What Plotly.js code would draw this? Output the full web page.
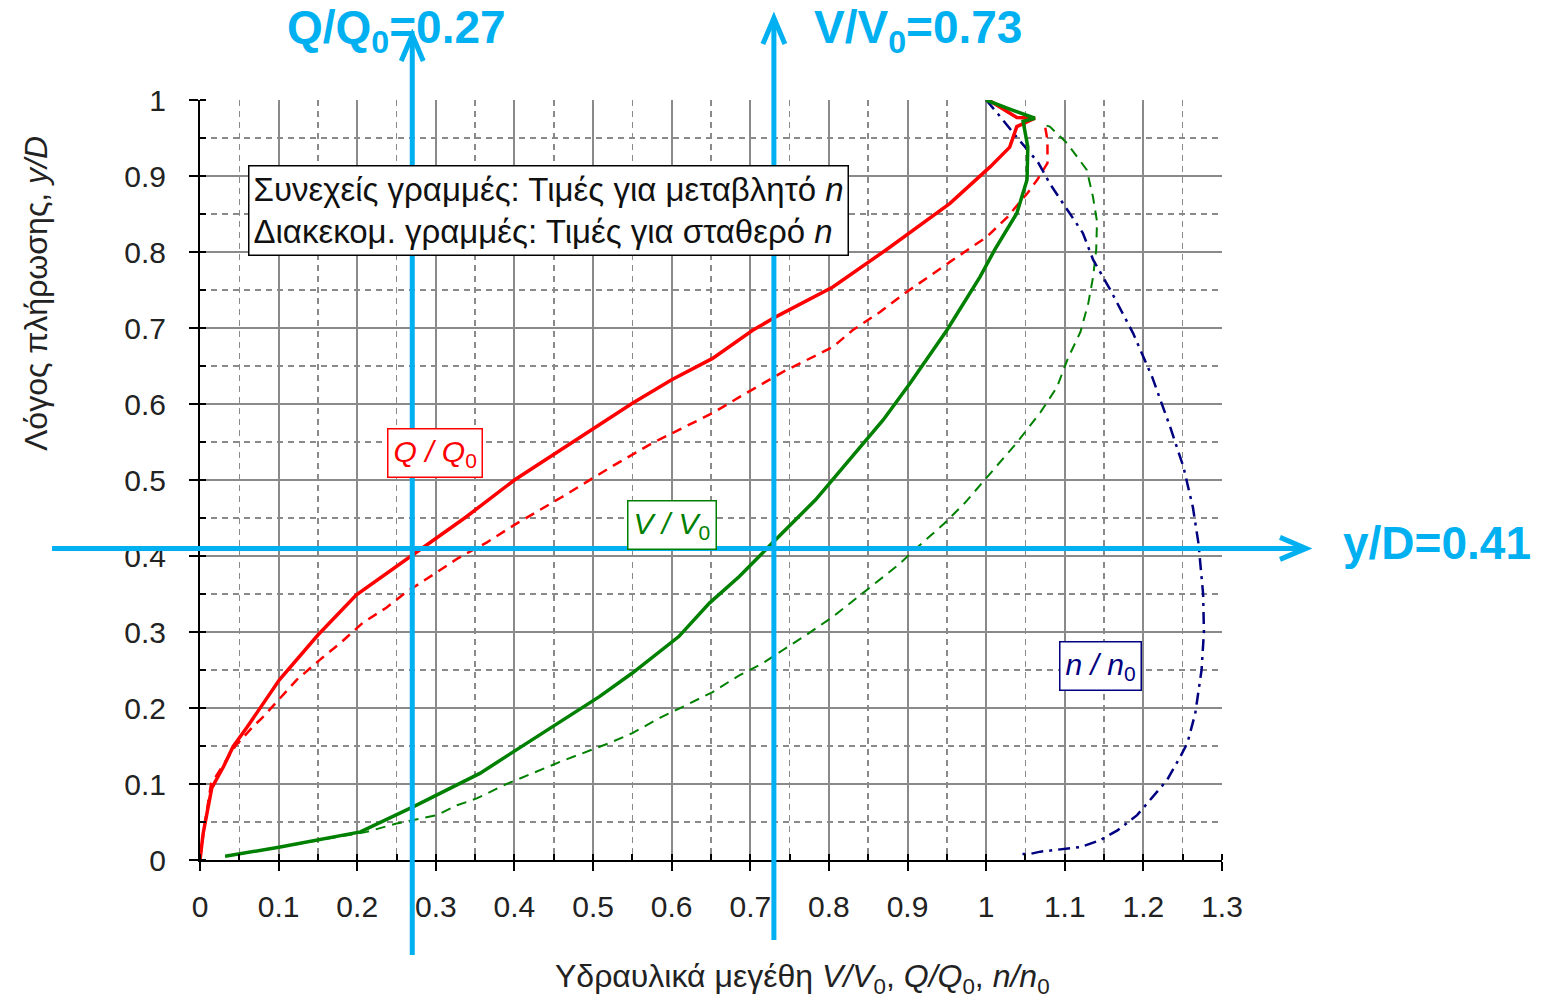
<!DOCTYPE html>
<html>
<head>
<meta charset="utf-8">
<script src="https://cdn.plot.ly/plotly-3.0.1.min.js"></script>
<style>html,body{margin:0;padding:0;background:#fff;}#chart{width:1544px;height:1000px;}</style>
</head>
<body>
<div id="chart"></div>
<script>
// ---- Data ----
// Q/Q0, variable n (solid red)
const qVarX = [0, 0.004, 0.015, 0.03, 0.042, 0.06, 0.101, 0.15, 0.199, 0.27, 0.338, 0.40, 0.505, 0.55, 0.60, 0.652, 0.703, 0.733, 0.805, 0.873, 0.954, 1.005, 1.03, 1.039, 1.062, 1.039, 1.003];
const qVarY = [0, 0.035, 0.095, 0.123, 0.149, 0.175, 0.237, 0.296, 0.349, 0.401, 0.451, 0.5, 0.57, 0.601, 0.632, 0.66, 0.697, 0.715, 0.754, 0.803, 0.864, 0.912, 0.938, 0.965, 0.976, 0.977, 1.0];
// Q/Q0, constant n (dashed red)
const qConX = [0, 0.005, 0.014, 0.045, 0.067, 0.08, 0.123, 0.152, 0.178, 0.207, 0.237, 0.263, 0.296, 0.328, 0.365, 0.40, 0.461, 0.521, 0.576, 0.652, 0.686, 0.741, 0.805, 0.83, 0.865, 0.897, 0.954, 1.001, 1.027, 1.053, 1.065, 1.078, 1.078, 1.075, 1.069];
const qConY = [0, 0.04, 0.1, 0.15, 0.175, 0.188, 0.237, 0.263, 0.285, 0.312, 0.332, 0.353, 0.375, 0.397, 0.418, 0.441, 0.478, 0.516, 0.549, 0.588, 0.609, 0.642, 0.675, 0.697, 0.721, 0.746, 0.787, 0.82, 0.846, 0.878, 0.895, 0.917, 0.947, 0.965, 0.968];
// V/V0, variable n (solid green)
const vVarX = [0.032, 0.102, 0.204, 0.271, 0.356, 0.43, 0.508, 0.55, 0.609, 0.648, 0.686, 0.728, 0.783, 0.869, 0.903, 0.95, 0.992, 1.011, 1.039, 1.052, 1.053, 1.047, 1.062, 1.03, 1.0];
const vVarY = [0.005, 0.017, 0.037, 0.07, 0.114, 0.163, 0.215, 0.246, 0.294, 0.338, 0.373, 0.417, 0.474, 0.579, 0.627, 0.697, 0.767, 0.803, 0.851, 0.895, 0.938, 0.972, 0.976, 0.988, 1.0];
// V/V0, constant n (dashed green)
const vConX = [0.032, 0.102, 0.212, 0.25, 0.301, 0.327, 0.352, 0.39, 0.46, 0.521, 0.55, 0.585, 0.619, 0.652, 0.686, 0.716, 0.741, 0.771, 0.805, 0.856, 0.888, 0.913, 0.947, 0.973, 1.001, 1.039, 1.069, 1.09, 1.104, 1.12, 1.13, 1.136, 1.14, 1.141, 1.136, 1.128, 1.103, 1.081, 1.071];
const vConY = [0.005, 0.017, 0.037, 0.048, 0.059, 0.072, 0.081, 0.1, 0.13, 0.154, 0.167, 0.187, 0.204, 0.221, 0.243, 0.259, 0.276, 0.296, 0.32, 0.362, 0.388, 0.412, 0.443, 0.47, 0.503, 0.549, 0.589, 0.622, 0.66, 0.695, 0.733, 0.767, 0.803, 0.84, 0.872, 0.908, 0.943, 0.965, 0.968];
// n/n0 (dash-dot navy)
const nX = [1.0, 1.014, 1.039, 1.066, 1.081, 1.103, 1.123, 1.136, 1.158, 1.187, 1.211, 1.234, 1.251, 1.263, 1.27, 1.276, 1.277, 1.274, 1.266, 1.256, 1.247, 1.23, 1.212, 1.192, 1.167, 1.145, 1.12, 1.094, 1.069, 1.056, 1.039];
const nY = [1.0, 0.983, 0.951, 0.918, 0.89, 0.855, 0.825, 0.79, 0.75, 0.693, 0.636, 0.57, 0.517, 0.464, 0.417, 0.35, 0.3, 0.25, 0.193, 0.154, 0.136, 0.105, 0.083, 0.059, 0.039, 0.026, 0.017, 0.014, 0.011, 0.008, 0.008];

// Read-off values marked by the cyan lines
const readQ = 0.27;
const readV = 0.73;
const readY = 0.41;

// Curve label boxes (centre positions in data units)
const labelTexts = ['<i>Q / Q</i><sub>0</sub>', '<i>V / V</i><sub>0</sub>', '<i>n / n</i><sub>0</sub>'];
const labelX = [0.299, 0.6, 1.145];
const labelY = [0.5355, 0.441, 0.255];
const labelColors = ['#ff0000', '#008000', '#000080'];

const legendText = 'Συνεχείς γραμμές: Τιμές για μεταβλητό <i>n</i><br>Διακεκομ. γραμμές: Τιμές για σταθερό <i>n</i>';
const xTitle = 'Υδραυλικά μεγέθη <i>V/V</i><sub>0</sub>, <i>Q/Q</i><sub>0</sub>, <i>n/n</i><sub>0</sub>';
const yTitle = 'Λόγος πλήρωσης, <i>y/D</i>';

// ---- Layout geometry ----
const W = 1544, H = 1000;
const L = 200, R = 322, T = 100, B = 140;
const pw = W - L - R, ph = H - T - B;
const xMax = 1.3, yMax = 1.0;
const px = p => (p - L) / pw;           // pixel x -> paper
const py = p => (H - B - p) / ph;       // pixel y -> paper
const dx = v => v / xMax;               // data x -> paper
const dy = v => v / yMax;
const FONT = 'Liberation Sans, Arial, sans-serif';
const CYAN = '#00b0f0';

const traces = [
  {x: qConX, y: qConY, mode: 'lines', line: {color: '#ff0000', width: 2.5, dash: '10px,7px'}, hoverinfo: 'skip'},
  {x: vConX, y: vConY, mode: 'lines', line: {color: '#008000', width: 2, dash: '10px,7px'}, hoverinfo: 'skip'},
  {x: nX, y: nY, mode: 'lines', line: {color: '#000080', width: 2.5, dash: '12px,6px,3px,6px'}, hoverinfo: 'skip'},
  {x: qVarX, y: qVarY, mode: 'lines', line: {color: '#ff0000', width: 3.5}, hoverinfo: 'skip'},
  {x: vVarX, y: vVarY, mode: 'lines', line: {color: '#008000', width: 3.5}, hoverinfo: 'skip'}
];

const annotations = [];
for (let i = 0; i < labelTexts.length; i++) {
  annotations.push({
    x: labelX[i], y: labelY[i], xref: 'x', yref: 'y', xanchor: 'center', yanchor: 'middle',
    text: labelTexts[i], showarrow: false,
    font: {family: FONT, size: 30, color: labelColors[i]},
    bordercolor: labelColors[i], borderwidth: 1.5, borderpad: 5, bgcolor: 'rgba(255,255,255,1)'
  });
}
annotations.push({
  x: px(248), y: py(165), xref: 'paper', yref: 'paper', xanchor: 'left', yanchor: 'top',
  text: legendText, showarrow: false, align: 'left',
  font: {family: FONT, size: 33, color: '#111'},
  bordercolor: '#000', borderwidth: 1.5, borderpad: 4, bgcolor: '#fff'
});
annotations.push({
  x: px(36), y: py(294), xref: 'paper', yref: 'paper', xanchor: 'center', yanchor: 'middle',
  text: yTitle, showarrow: false, textangle: -90,
  font: {family: FONT, size: 32, color: '#222'}
});
annotations.push({
  x: px(802), y: py(978), xref: 'paper', yref: 'paper', xanchor: 'center', yanchor: 'middle',
  text: xTitle, showarrow: false,
  font: {family: FONT, size: 32, color: '#222'}
});
// cyan labels
annotations.push({x: dx(readQ), y: py(30), xref: 'paper', yref: 'paper', xanchor: 'center', yanchor: 'middle', showarrow: false,
  text: '<b>Q/Q<sub>0</sub>=' + readQ.toFixed(2) + '</b>', font: {family: FONT, size: 46, color: CYAN}, xshift: -16});
annotations.push({x: dx(readV), y: py(30), xref: 'paper', yref: 'paper', xanchor: 'left', yanchor: 'middle', showarrow: false,
  text: '<b>V/V<sub>0</sub>=' + readV.toFixed(2) + '</b>', font: {family: FONT, size: 46, color: CYAN}, xshift: 38});
annotations.push({x: px(1341), y: dy(readY), xref: 'paper', yref: 'paper', xanchor: 'left', yanchor: 'middle', showarrow: false,
  text: '<b>y/D=' + readY.toFixed(2) + '</b>', font: {family: FONT, size: 46, color: CYAN}, yshift: 5});

// cyan arrows (lines + open chevrons)
const ax = 11 / pw, ayv = 26 / ph, axh = 26 / pw, ayh = 11 / ph;
const shapes = [];
const vLines = [[readQ, 955, 35], [readV, 940, 18]];
for (const [v, yb, yt] of vLines) {
  const xp = dx(v);
  shapes.push({type: 'line', xref: 'paper', yref: 'paper', x0: xp, x1: xp, y0: py(yb), y1: py(yt + 2), line: {color: CYAN, width: 5}});
  shapes.push({type: 'path', xref: 'paper', yref: 'paper',
    path: `M ${xp - ax},${py(yt) - ayv} L ${xp},${py(yt)} L ${xp + ax},${py(yt) - ayv}`,
    line: {color: CYAN, width: 5}});
}
{
  const yp = dy(readY), xl = px(52), xr = px(1306);
  shapes.push({type: 'line', xref: 'paper', yref: 'paper', x0: xl, x1: xr - 2 / pw, y0: yp, y1: yp, line: {color: CYAN, width: 5}});
  shapes.push({type: 'path', xref: 'paper', yref: 'paper',
    path: `M ${xr - axh},${yp + ayh} L ${xr},${yp} L ${xr - axh},${yp - ayh}`,
    line: {color: CYAN, width: 5}});
}

const axisCommon = {
  showgrid: true, gridcolor: '#8a8a8a', gridwidth: 2,
  showline: true, linecolor: '#000', linewidth: 2,
  ticks: 'outside', ticklen: 9, tickwidth: 2, tickcolor: '#000',
  zeroline: false, tickfont: {family: FONT, size: 30, color: '#222'},
  dtick: 0.1, tick0: 0,
  minor: {dtick: 0.05, showgrid: true, gridcolor: '#8a8a8a', gridwidth: 1.5, griddash: '6px,5px',
          ticks: 'inside', ticklen: 6, tickwidth: 2, tickcolor: '#000'}
};

const layout = {
  width: W, height: H,
  margin: {l: L, r: R, t: T, b: B, pad: 0},
  paper_bgcolor: '#fff', plot_bgcolor: '#fff',
  showlegend: false,
  xaxis: Object.assign({}, axisCommon, {range: [0, xMax], ticklabelstandoff: 10}),
  yaxis: Object.assign({}, axisCommon, {range: [0, yMax], ticklabelstandoff: 17}),
  annotations: annotations,
  shapes: shapes
};

Plotly.newPlot('chart', traces, layout, {staticPlot: true, displayModeBar: false});
</script>
</body>
</html>
